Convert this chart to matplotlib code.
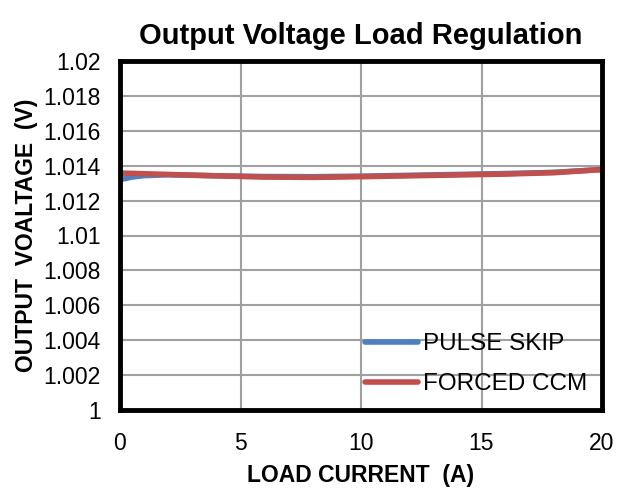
import matplotlib
matplotlib.use("Agg")
import matplotlib.pyplot as plt

plt.rcParams['font.family'] = ['Liberation Sans', 'DejaVu Sans']

x_pulse = [0, 0.5, 1, 2, 4, 6, 8, 10, 12, 14, 16, 18, 20]
v_pulse = [1.0132, 1.01335, 1.01343, 1.01348, 1.01342, 1.01338, 1.01337, 1.0134, 1.01345, 1.0135, 1.01355, 1.01362, 1.01378]
x_ccm = [0, 1, 2, 4, 6, 8, 10, 12, 14, 16, 18, 20]
v_ccm = [1.01358, 1.01354, 1.0135, 1.01342, 1.01335, 1.01333, 1.01337, 1.01342, 1.01347, 1.01352, 1.0136, 1.01378]

x_ticks = [0, 5, 10, 15, 20]
y_ticks = [1, 1.002, 1.004, 1.006, 1.008, 1.01, 1.012, 1.014, 1.016, 1.018, 1.02]
y_labels = ['1', '1.002', '1.004', '1.006', '1.008', '1.01', '1.012', '1.014', '1.016', '1.018', '1.02']

fig = plt.figure(figsize=(6.18, 4.88), dpi=100)
ax = fig.add_axes([120/618, 1-410/488, 482/618, 349/488])

ax.plot(x_pulse, v_pulse, color='#4F81BD', lw=4, label='PULSE SKIP', solid_capstyle='round')
ax.plot(x_ccm, v_ccm, color='#C0504D', lw=4, label='FORCED CCM', solid_capstyle='round')

ax.set_xlim(0, 20)
ax.set_ylim(1.0, 1.02)
ax.set_xticks(x_ticks)
ax.set_yticks(y_ticks)
ax.set_yticklabels(y_labels)
ax.grid(True, color='#A0A0A0', lw=1.5)
ax.set_axisbelow(True)
for s in ax.spines.values():
    s.set_linewidth(3.5)
    s.set_color('black')
ax.tick_params(axis='both', length=0, labelsize=16.5)
ax.tick_params(axis='y', pad=14)
ax.tick_params(axis='x', pad=16)

ax.set_title('Output Voltage Load Regulation', fontsize=21, fontweight='bold', pad=12)
ax.set_xlabel('LOAD CURRENT  (A)', fontsize=16.5, fontweight='bold', labelpad=6)
ax.set_ylabel('OUTPUT  VOALTAGE  (V)', fontsize=16.5, fontweight='bold', labelpad=4)

leg = ax.legend(loc='lower right', frameon=False, fontsize=17.5, handlelength=2.2,
                labelspacing=0.75, handletextpad=0.2, borderaxespad=0.2)

fig.savefig('out.png', dpi=100)
